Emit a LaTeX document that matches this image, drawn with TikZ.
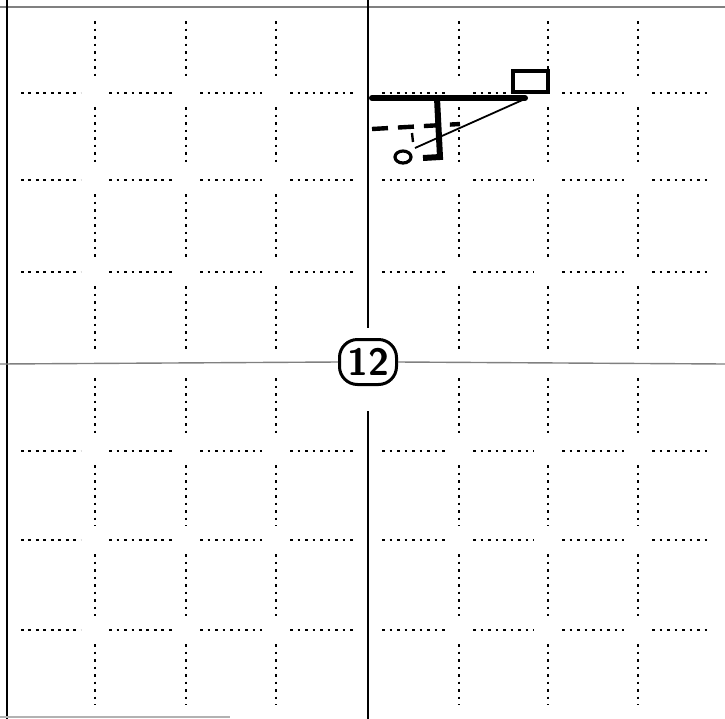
\documentclass[tikz,border=0pt]{standalone}
\usepackage{tikz}
\usetikzlibrary{positioning}

\tikzset{
  griddot/.style={line width=1.3pt, dash pattern=on 1.3pt off 2.45pt},
  numring/.style={draw, line width=1.5pt, rounded corners=9pt,
    minimum width=28.5pt, minimum height=22.5pt, inner sep=1pt,
    font=\sffamily\bfseries\fontsize{19}{19}\selectfont}
}

\begin{document}
\begin{tikzpicture}[x=0.5pt, y=-0.5pt]
		\useasboundingbox (0,0) rectangle (725,719);
		% 外框
		\draw[gray, line width=0.8pt] (0,7) -- (725,7);
		\draw[line width=1pt] (7,0) -- (7,719);
		\draw[gray!60, line width=0.8pt] (0,717) -- (230,717);
		
		% 虚线网格（竖线）
		\foreach \x in {95,186,276,459,548,638}
		  \foreach \ya/\yb in {7/93,93/180,180/272,272/364,364/451,451/540,540/630,630/719}
		    \draw[griddot] (\x,\ya+14) -- (\x,\yb-14);
		% 虚线网格（横线）
		\foreach \y in {93,180,272,451,540,630}
		  \foreach \xa/\xb in {7/95,95/186,186/276,276/368,368/459,459/548,548/638,638/725}
		    \draw[griddot] (\xa+14,\y) -- (\xb-14,\y);
		
		% 中心编号与十字线
		\node[numring] (num) at (368,362) {12};
		\draw[line width=0.7pt] (368,0) -- (368,328);
		\draw[line width=0.7pt] (368,411) -- (368,719);
		\draw[gray, line width=0.7pt] (0,364) -- (num.west);
		\draw[gray, line width=0.7pt] (num.east) -- (725,364);
		
		% 右上角草图
		\node[draw, line width=1.6pt, minimum width=17.5pt, minimum height=10.5pt,
		  inner sep=0pt] (box) at (530.5,81.5) {};
		\draw[line width=3pt, line cap=round] (372,98) -- (525,98); % 粗横线
		\draw[line width=3pt] (437,98) -- (440,157) -- (423,158); % 竖钩
		\draw[line width=2.2pt, dash pattern=on 8pt off 5pt] (372,129) -- (460,124); % 虚线
		\draw[line width=1.2pt] (412,133) -- (413,142);
		\draw[line width=1.6pt] (403,157) ellipse [x radius=8, y radius=6];
		\draw[line width=0.9pt] (415,148) -- (527,98); % 斜线
	\end{tikzpicture}
\end{document}
